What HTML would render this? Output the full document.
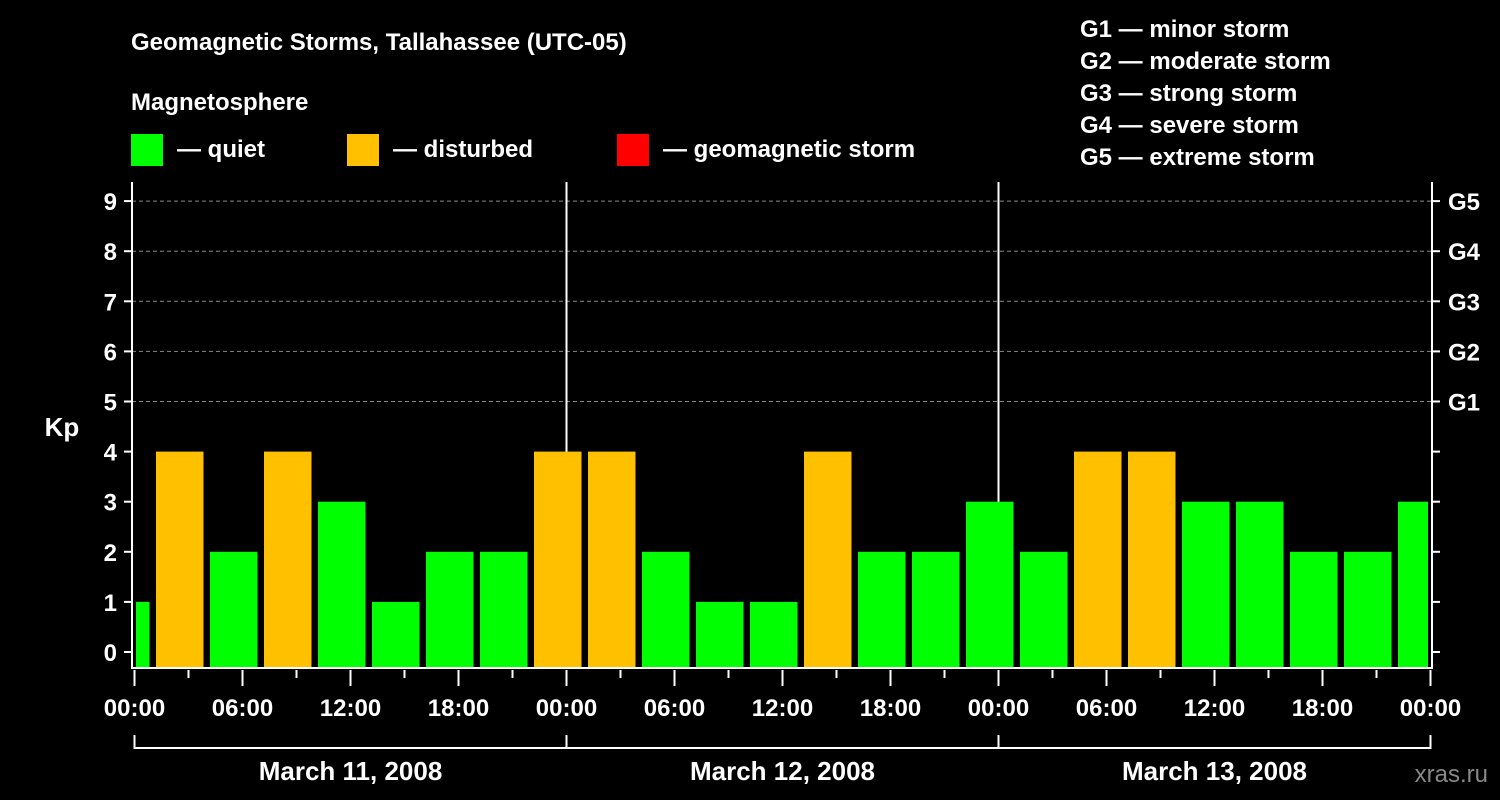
<!DOCTYPE html>
<html><head><meta charset="utf-8">
<style>
html,body{margin:0;padding:0;background:#000;}
svg{display:block;font-family:"Liberation Sans",Arial,sans-serif;font-weight:bold;}
</style></head>
<body>
<svg id="chart" width="1500" height="800" viewBox="0 0 1500 800">
<rect width="1500" height="800" fill="#000"/>
<text x="131" y="50" fill="#fff" font-size="24">Geomagnetic Storms, Tallahassee (UTC-05)</text>
<text x="131" y="110" fill="#fff" font-size="24">Magnetosphere</text>
<rect x="131" y="134" width="32" height="32" fill="#00ff00"/>
<text x="177" y="157" fill="#fff" font-size="24">— quiet</text>
<rect x="347" y="134" width="32" height="32" fill="#ffc000"/>
<text x="393" y="157" fill="#fff" font-size="24">— disturbed</text>
<rect x="617" y="134" width="32" height="32" fill="#ff0000"/>
<text x="663" y="157" fill="#fff" font-size="24">— geomagnetic storm</text>
<g font-size="24" fill="#fff">
<text x="1080" y="37">G1 — minor storm</text>
<text x="1080" y="69">G2 — moderate storm</text>
<text x="1080" y="101">G3 — strong storm</text>
<text x="1080" y="133">G4 — severe storm</text>
<text x="1080" y="165">G5 — extreme storm</text>
</g>
<text x="62" y="436" fill="#fff" font-size="26" text-anchor="middle">Kp</text>
<text x="1488" y="782" fill="#888" font-size="24" font-weight="normal" text-anchor="end">xras.ru</text>
<g id="plot"></g>
</svg>
<script>
const kpValues = [1,4,2,4,3,1,2,2,4,4,2,1,1,4,2,2,3,2,4,4,3,3,2,2,3];
const firstBlockHour = -2;
const blockHours = 3;
const yTicks = [0,1,2,3,4,5,6,7,8,9];
const gLabels = ["G1","G2","G3","G4","G5"];
const xTickLabels = ["00:00","06:00","12:00","18:00","00:00","06:00","12:00","18:00","00:00","06:00","12:00","18:00","00:00"];
const dayLabels = ["March 11, 2008","March 12, 2008","March 13, 2008"];

const NS = "http://www.w3.org/2000/svg";
const plot = document.getElementById("plot");
const X0 = 134.5, PX_H = 18, TOTAL_H = 72;
const xs = h => X0 + h * PX_H;
const ys = k => 652 - k * 50.1;
const L = 132, R = 1432, T = 182, B = 668;
function mk(tag, attrs, parent){ const e = document.createElementNS(NS, tag); for (const k in attrs) e.setAttribute(k, attrs[k]); (parent||plot).appendChild(e); return e; }

// grid lines
yTicks.forEach(v => {
  if (v >= 5) {
    const g = mk("line", {x1:L, x2:R, y1:ys(v), y2:ys(v), stroke:"#888", "stroke-width":1, "stroke-dasharray":"4,3"});
    
    
  }
});
// day separators
for (let d = 1; d < dayLabels.length; d++) {
  const s = mk("line", {x1:xs(d*24), x2:xs(d*24), y1:T, y2:B, stroke:"#fff", "stroke-width":2});
  
  
}
// bars
kpValues.forEach((v, i) => {
  const start = firstBlockHour + i * blockHours;
  let x1 = xs(start) + 3.5, x2 = xs(start + blockHours) - 3;
  x1 = Math.max(x1, L + 4); x2 = Math.min(x2, R - 4);
  const color = v >= 5 ? "#ff0000" : (v >= 4 ? "#ffc000" : "#00ff00");
  const b = mk("rect", {x:x1, y:ys(v), width:x2 - x1, height:B - 1 - ys(v), fill:color});
  
  
});
// frame
const fr = mk("path", {d:`M${L},${T} V${B} H${R} V${T}`, stroke:"#fff", "stroke-width":2, fill:"none"});


// y ticks
yTicks.forEach(v => {
  const y = ys(v);
  mk("line", {x1:L-8, x2:L, y1:y, y2:y, stroke:"#fff", "stroke-width":2});
  mk("line", {x1:R, x2:R+8, y1:y, y2:y, stroke:"#fff", "stroke-width":2});
  const t = mk("text", {x:117, y:y+9, fill:"#fff", "font-size":24, "text-anchor":"end"});
  t.textContent = v;
  
  
  if (v >= 5) {
    const g = mk("text", {x:1448, y:y+9, fill:"#fff", "font-size":24});
    g.textContent = gLabels[v-5];
    
    
  }
});
// x ticks
for (let h = 0; h <= TOTAL_H; h += 3) {
  const major = h % 6 === 0;
  mk("line", {x1:xs(h), x2:xs(h), y1:670, y2:major ? 686 : 678, stroke:"#fff", "stroke-width":2});
  if (major) {
    const t = mk("text", {x:xs(h), y:716, fill:"#fff", "font-size":24, "text-anchor":"middle"});
    t.textContent = xTickLabels[h/6];
    
    
  }
}
// day brackets
const br = mk("path", {d:`M${xs(0)},735 V748 H${xs(TOTAL_H)} V735`, stroke:"#fff", "stroke-width":2, fill:"none"});


dayLabels.forEach((d, i) => {
  mk("line", {x1:xs(i*24), x2:xs(i*24), y1:735, y2:748, stroke:"#fff", "stroke-width":2});
  const t = mk("text", {x:xs(i*24+12), y:780, fill:"#fff", "font-size":26, "text-anchor":"middle"});
  t.textContent = d;
  
  
});
</script>
</body></html>
